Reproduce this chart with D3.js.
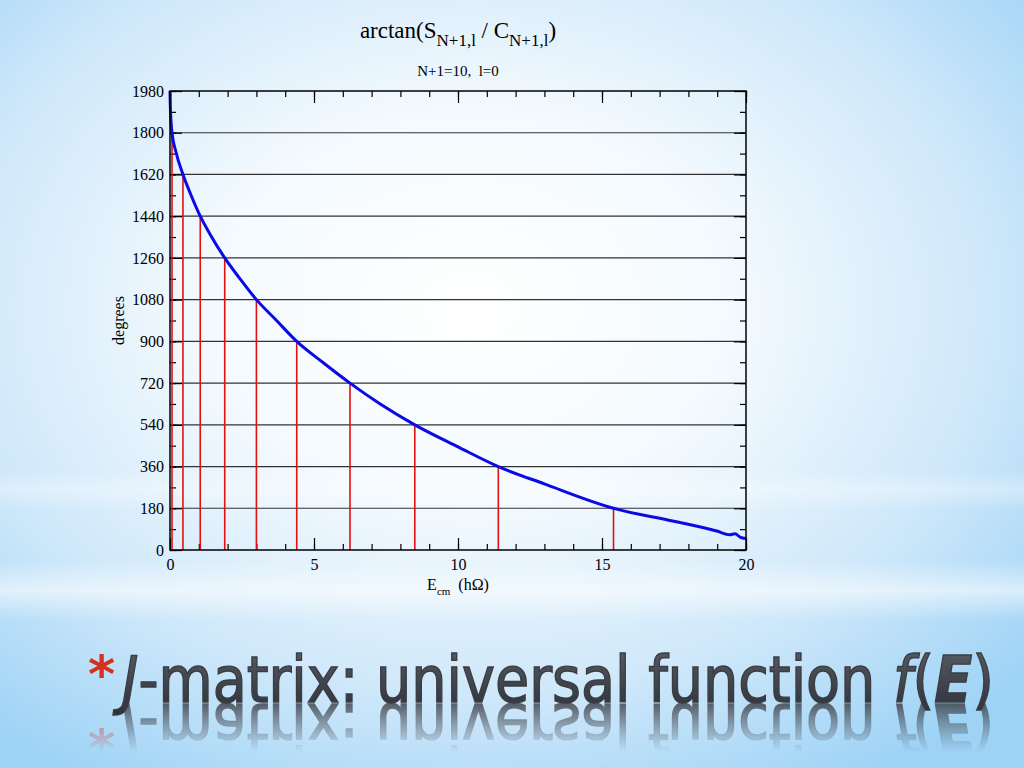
<!DOCTYPE html>
<html>
<head>
<meta charset="utf-8">
<script src="https://cdn.jsdelivr.net/npm/d3@7"></script>
<style>
  html, body { margin: 0; padding: 0; overflow: hidden; }
  body { width: 1024px; height: 768px; }
  svg { display: block; }
</style>
</head>
<body>
<div class="myChart"></div>
<script>
// curve: E (h-omega) vs degrees
var curveE   = [0, 0.01, 0.03, 0.07, 0.2, 0.45, 0.7, 1.05, 1.4, 1.9, 2.4, 3.0, 3.7, 4.4, 5.3, 6.25, 7.3, 8.5, 10.0, 11.4, 13.0, 15.4, 17.5, 18.98, 19.44, 19.62, 19.79, 20];
var curveDeg = [1980, 1920, 1860, 1800, 1720, 1620, 1540, 1440, 1360, 1260, 1175, 1080, 990, 900, 810, 720, 630, 540, 445, 360, 285, 180, 124, 82, 66, 70, 56, 50];

// red drop lines where the curve crosses multiples of 180
var dropE   = [0.07, 0.45, 1.05, 1.9, 3.0, 4.4, 6.25, 8.5, 11.4, 15.4];
var dropDeg = [1800, 1620, 1440, 1260, 1080, 900, 720, 540, 360, 180];

var xTicks = [0, 5, 10, 15, 20];
var yTicks = [0, 180, 360, 540, 720, 900, 1080, 1260, 1440, 1620, 1800, 1980];

var w = 1024, h = 768;
var plotL = 170, plotR = 746, plotT = 91, plotB = 550;

var svg = d3.select('.myChart').append('svg')
    .attr('width', w)
    .attr('height', h);

var defs = svg.append('defs');
var bg = defs.append('radialGradient')
    .attr('id', 'bg')
    .attr('cx', 0.46).attr('cy', 0.4).attr('r', 0.72)
    .attr('fx', 0.46).attr('fy', 0.4);
bg.append('stop').attr('offset', '0%').attr('stop-color', '#ffffff');
bg.append('stop').attr('offset', '35%').attr('stop-color', '#f4fafe');
bg.append('stop').attr('offset', '70%').attr('stop-color', '#cfe8fa');
bg.append('stop').attr('offset', '100%').attr('stop-color', '#9ed3f6');

var band = defs.append('linearGradient')
    .attr('id', 'band').attr('x1', 0).attr('y1', 0).attr('x2', 0).attr('y2', 1);
band.append('stop').attr('offset', '0%').attr('stop-color', '#ffffff').attr('stop-opacity', 0);
band.append('stop').attr('offset', '50%').attr('stop-color', '#ffffff').attr('stop-opacity', 0.55);
band.append('stop').attr('offset', '100%').attr('stop-color', '#ffffff').attr('stop-opacity', 0);

var titleFill = defs.append('linearGradient')
    .attr('id', 'tfill').attr('x1', 0).attr('y1', 0).attr('x2', 0).attr('y2', 1);
titleFill.append('stop').attr('offset', '0%').attr('stop-color', '#5a5e66');
titleFill.append('stop').attr('offset', '100%').attr('stop-color', '#2c2f36');

var refl = defs.append('linearGradient')
    .attr('id', 'reflFade').attr('x1', 0).attr('y1', 0).attr('x2', 0).attr('y2', 1);
refl.append('stop').attr('offset', '0%').attr('stop-color', '#ffffff').attr('stop-opacity', 0.8);
refl.append('stop').attr('offset', '75%').attr('stop-color', '#ffffff').attr('stop-opacity', 0);
var mask = defs.append('mask').attr('id', 'reflMask')
    .attr('maskUnits', 'userSpaceOnUse').attr('x', 0).attr('y', 0).attr('width', w).attr('height', h);
mask.append('rect').attr('x', 0).attr('y', 703).attr('width', w).attr('height', 65).attr('fill', 'url(#reflFade)');

svg.append('rect').attr('width', w).attr('height', h).attr('fill', 'url(#bg)');
svg.append('rect').attr('x', 0).attr('y', 560).attr('width', w).attr('height', 60).attr('fill', 'url(#band)');
svg.append('rect').attr('x', 0).attr('y', 470).attr('width', w).attr('height', 40).attr('fill', 'url(#band)').attr('opacity', 0.6);

var x = d3.scaleLinear().domain([0, 20]).range([plotL, plotR]);
var y = d3.scaleLinear().domain([0, 1980]).range([plotB, plotT]);

// grid lines
svg.append('g').selectAll('line')
    .data(yTicks.slice(1, -1))
    .enter().append('line')
    .attr('x1', plotL).attr('x2', plotR)
    .attr('y1', function(d) { return y(d); })
    .attr('y2', function(d) { return y(d); })
    .attr('stroke', '#333')
    .attr('stroke-width', 1.2);

// axes with inward ticks
var serif = '"Liberation Serif", "DejaVu Serif", serif';
var minorX = d3.range(0, 21, 1);
var minorY = d3.range(0, 1981, 90);

function styleAxis(g) {
  g.select('.domain').remove();
  g.selectAll('line').attr('stroke', '#000').attr('stroke-width', 1.2);
  g.selectAll('text').attr('font-family', serif).attr('font-size', '16px').attr('fill', '#000');
}

svg.append('g').attr('transform', 'translate(0,' + plotB + ')')
    .call(d3.axisBottom(x).tickValues(minorX).tickSize(-6).tickFormat(''))
    .call(styleAxis);
svg.append('g').attr('transform', 'translate(0,' + plotB + ')')
    .call(d3.axisBottom(x).tickValues(xTicks).tickSize(-12).tickPadding(15).tickFormat(d3.format('d')))
    .call(styleAxis)
    .selectAll('text').attr('dy', '0.3em');
svg.append('g').attr('transform', 'translate(0,' + plotT + ')')
    .call(d3.axisTop(x).tickValues(minorX).tickSize(-6).tickFormat(''))
    .call(styleAxis);
svg.append('g').attr('transform', 'translate(0,' + plotT + ')')
    .call(d3.axisTop(x).tickValues(xTicks).tickSize(-12).tickFormat(''))
    .call(styleAxis);
svg.append('g').attr('transform', 'translate(' + plotL + ',0)')
    .call(d3.axisLeft(y).tickValues(minorY).tickSize(-6).tickFormat(''))
    .call(styleAxis);
svg.append('g').attr('transform', 'translate(' + plotL + ',0)')
    .call(d3.axisLeft(y).tickValues(yTicks).tickSize(-12).tickPadding(6).tickFormat(d3.format('d')))
    .call(styleAxis);
svg.append('g').attr('transform', 'translate(' + plotR + ',0)')
    .call(d3.axisRight(y).tickValues(minorY).tickSize(-6).tickFormat(''))
    .call(styleAxis);
svg.append('g').attr('transform', 'translate(' + plotR + ',0)')
    .call(d3.axisRight(y).tickValues(yTicks).tickSize(-12).tickFormat(''))
    .call(styleAxis);

// red drop lines
svg.append('g').selectAll('line')
    .data(dropE)
    .enter().append('line')
    .attr('x1', function(d) { return x(d); })
    .attr('x2', function(d) { return x(d); })
    .attr('y1', y(0))
    .attr('y2', function(d, i) { return y(dropDeg[i]); })
    .attr('stroke', '#e41010')
    .attr('stroke-width', 1.6);

// blue curve
var pts = curveE.map(function(e, i) { return [e, curveDeg[i]]; });
var line = d3.line()
    .x(function(d) { return x(d[0]); })
    .y(function(d) { return y(d[1]); })
    .curve(d3.curveMonotoneX);
svg.append('path')
    .datum(pts)
    .attr('d', line)
    .attr('fill', 'none')
    .attr('stroke', '#0a0ae6')
    .attr('stroke-width', 3);

// frame
svg.append('rect')
    .attr('x', plotL).attr('y', plotT)
    .attr('width', plotR - plotL).attr('height', plotB - plotT)
    .attr('fill', 'none').attr('stroke', '#000').attr('stroke-width', 1.5);

// titles
var t = svg.append('text')
    .attr('x', 458).attr('y', 38)
    .attr('text-anchor', 'middle')
    .attr('font-family', serif).attr('font-size', '23px').attr('fill', '#000');
t.append('tspan').text('arctan(S');
t.append('tspan').attr('dy', 8).attr('font-size', '17px').text('N+1,l');
t.append('tspan').attr('dy', -8).text(' / C');
t.append('tspan').attr('dy', 8).attr('font-size', '17px').text('N+1,l');
t.append('tspan').attr('dy', -8).text(')');

svg.append('text')
    .attr('x', 458).attr('y', 76)
    .attr('text-anchor', 'middle')
    .attr('font-family', serif).attr('font-size', '15px')
    .attr('xml:space', 'preserve')
    .text('N+1=10,  l=0');

var xl = svg.append('text')
    .attr('x', 458).attr('y', 590)
    .attr('text-anchor', 'middle')
    .attr('font-family', serif).attr('font-size', '16px')
    .attr('xml:space', 'preserve');
xl.append('tspan').text('E');
xl.append('tspan').attr('dy', 5).attr('font-size', '11px').text('cm');
xl.append('tspan').attr('dy', -5).text('  (h\u03A9)');

svg.append('text')
    .attr('transform', 'translate(124,' + ((plotT + plotB) / 2) + ') rotate(-90)')
    .attr('text-anchor', 'middle')
    .attr('font-family', serif).attr('font-size', '16px')
    .text('degrees');

// slide title with reflection
function slideTitle(g) {
  g.append('text')
      .attr('x', 88).attr('y', 692)
      .attr('font-family', '"DejaVu Sans", sans-serif')
      .attr('font-size', '52px')
      .attr('font-weight', 'bold')
      .attr('fill', '#d6301f')
      .text('*');
  var s = g.append('text')
      .attr('x', 122).attr('y', 702)
      .attr('font-family', '"DejaVu Sans Condensed", "DejaVu Sans", sans-serif')
      .attr('font-size', '64px')
      .attr('fill', 'url(#tfill)')
      .attr('stroke', '#3a3d44')
      .attr('stroke-width', 1.4)
      .attr('textLength', 872)
      .attr('lengthAdjust', 'spacingAndGlyphs');
  s.append('tspan').attr('font-style', 'italic').text('J');
  s.append('tspan').text('-matrix: universal function ');
  s.append('tspan').attr('font-style', 'italic').text('f');
  s.append('tspan').text('(');
  s.append('tspan').attr('font-style', 'italic').attr('font-weight', 'bold').text('E');
  s.append('tspan').text(')');
}
slideTitle(svg.append('g'));
var reflG = svg.append('g').attr('mask', 'url(#reflMask)')
    .append('g').attr('transform', 'translate(0,1406) scale(1,-1)');
slideTitle(reflG);
</script>
</body>
</html>
